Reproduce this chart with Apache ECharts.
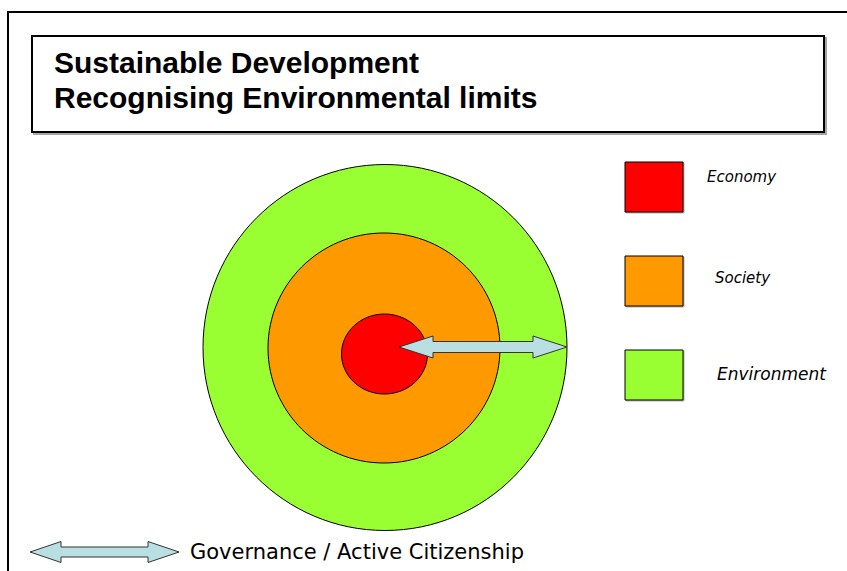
<!DOCTYPE html>
<html>
<head>
<meta charset="utf-8">
<title>Sustainable Development</title>
<script src="https://cdn.jsdelivr.net/npm/echarts@6/dist/echarts.min.js"></script>
<style>
  html, body { margin: 0; padding: 0; background: #fff; }
  #chart { width: 847px; height: 571px; }
</style>
</head>
<body>
<div id="chart"></div>
<script>
// layers of the model, outermost first
const layers = ['Environment', 'Society', 'Economy'];
// half-width / half-height of each layer, in diagram units
const layerRadiusX = [182, 116, 43];
const layerRadiusY = [183, 115, 40];
// legend reads from the inside out
const legendOrder = ['Economy', 'Society', 'Environment'];
const titleLines = ['Sustainable Development', 'Recognising Environmental limits'];
const arrowLabel = 'Governance / Active Citizenship';

// layout (diagram units = pixels of the 847x571 page)
const layout = {
  centers: [[385, 347.5], [384, 348], [384.5, 354]],
  bigArrow: { from: 399, to: 567, y: 347, head: 34, headHalf: 11, shaftHalf: 5.5 },
  keyArrow: { from: 30, to: 179, y: 552, head: 31, headHalf: 10.5, shaftHalf: 5 },
  legendX: 625, legendW: 58, legendH: 50,
  legendTop: [162, 256, 350],
  labelPos: [[707, 177, 15], [715, 278, 15], [717, 374, 17]]
};
const colors = { Environment: '#99ff33', Society: '#ff9900', Economy: '#ff0000' };

const chart = echarts.init(document.getElementById('chart'), null, { renderer: 'svg' });

function arrowPoints(api, a) {
  const p = (x, y) => api.coord([x, y]);
  return [
    p(a.from, a.y),
    p(a.from + a.head, a.y - a.headHalf),
    p(a.from + a.head, a.y - a.shaftHalf),
    p(a.to - a.head, a.y - a.shaftHalf),
    p(a.to - a.head, a.y - a.headHalf),
    p(a.to, a.y),
    p(a.to - a.head, a.y + a.headHalf),
    p(a.to - a.head, a.y + a.shaftHalf),
    p(a.from + a.head, a.y + a.shaftHalf),
    p(a.from + a.head, a.y + a.headHalf)
  ];
}

const titleFont = 'bold 30px "Liberation Sans", Arial, sans-serif';

const option = {
  animation: false,
  grid: { left: 0, right: 0, top: 0, bottom: 0 },
  xAxis: { type: 'value', min: 0, max: 847, show: false },
  yAxis: { type: 'value', min: 0, max: 571, inverse: true, show: false },
  graphic: [
    // outer frame (only top and left edges are visible)
    { type: 'polyline', shape: { points: [[8, 571], [8, 12], [847, 12]] },
      style: { stroke: '#000', lineWidth: 2, fill: null } },
    // title box
    { type: 'rect', shape: { x: 32, y: 36, width: 792, height: 96 },
      style: { fill: '#fff', stroke: '#000', lineWidth: 2,
        shadowColor: 'rgba(0,0,0,0.35)', shadowOffsetX: 2, shadowOffsetY: 2, shadowBlur: 0 } },
    { type: 'text', x: 54, y: 62.5,
      style: { text: titleLines[0], fill: '#000', font: titleFont, verticalAlign: 'middle' } },
    { type: 'text', x: 54, y: 97.5,
      style: { text: titleLines[1], fill: '#000', font: titleFont, verticalAlign: 'middle' } }
  ],
  series: [
    {
      name: 'layers',
      type: 'custom',
      data: layers.map((name, i) => [layout.centers[i][0], layout.centers[i][1], layerRadiusX[i], layerRadiusY[i], i]),
      renderItem(params, api) {
        const c = api.coord([api.value(0), api.value(1)]);
        const s = api.size([api.value(2), api.value(3)]);
        return {
          type: 'ellipse',
          shape: { cx: c[0], cy: c[1], rx: s[0], ry: s[1] },
          style: { fill: colors[layers[api.value(4)]], stroke: '#000', lineWidth: 1 }
        };
      }
    },
    {
      name: 'arrows',
      type: 'custom',
      data: [[0], [1]],
      renderItem(params, api) {
        const a = api.value(0) === 0 ? layout.bigArrow : layout.keyArrow;
        return {
          type: 'polygon',
          shape: { points: arrowPoints(api, a) },
          style: { fill: '#b9dfe3', stroke: '#333', lineWidth: 1 }
        };
      }
    },
    {
      name: 'legend',
      type: 'custom',
      data: legendOrder.map((name, i) => [i]),
      renderItem(params, api) {
        const i = api.value(0);
        const name = legendOrder[i];
        const tl = api.coord([layout.legendX, layout.legendTop[i]]);
        const s = api.size([layout.legendW, layout.legendH]);
        const lp = layout.labelPos[i];
        const t = api.coord([lp[0], lp[1]]);
        return {
          type: 'group',
          children: [
            { type: 'rect', shape: { x: tl[0], y: tl[1], width: s[0], height: s[1] },
              style: { fill: colors[name], stroke: '#000', lineWidth: 1,
                shadowColor: 'rgba(0,0,0,0.3)', shadowOffsetX: 1, shadowOffsetY: 1, shadowBlur: 0 } },
            { type: 'text', x: t[0], y: t[1],
              style: { text: name, fill: '#000', font: 'italic ' + lp[2] + 'px "DejaVu Sans", sans-serif',
                verticalAlign: 'middle', align: 'left' } }
          ]
        };
      }
    },
    {
      name: 'key',
      type: 'custom',
      data: [[190, 552]],
      renderItem(params, api) {
        const p = api.coord([api.value(0), api.value(1)]);
        return {
          type: 'text', x: p[0], y: p[1],
          style: { text: arrowLabel, fill: '#000', font: '21px "DejaVu Sans", sans-serif',
            verticalAlign: 'middle', align: 'left' }
        };
      }
    }
  ]
};

chart.setOption(option);
</script>
</body>
</html>
